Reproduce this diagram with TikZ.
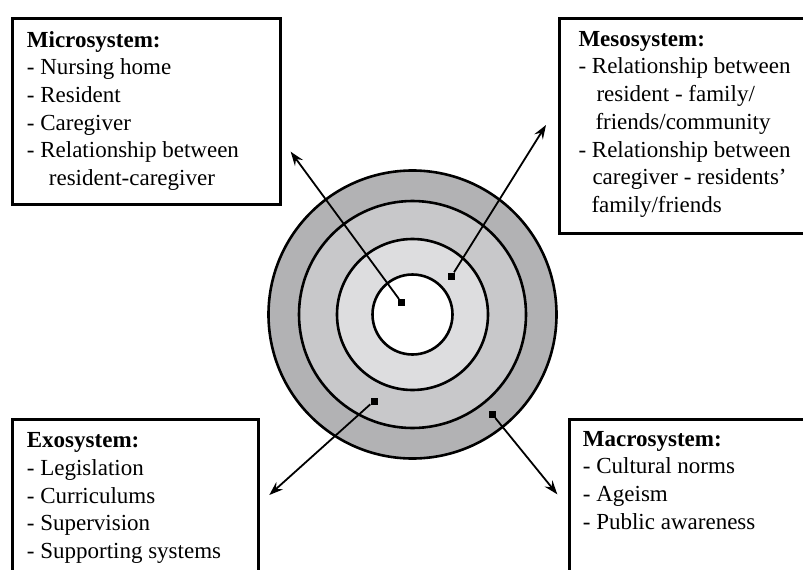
\documentclass[tikz,border=0pt]{standalone}
\usepackage{fontspec}
\setmainfont{Liberation Serif}
\usetikzlibrary{arrows.meta}
\definecolor{ringa}{RGB}{178,178,180}
\definecolor{ringb}{RGB}{200,200,202}
\definecolor{ringc}{RGB}{221,221,223}

\tikzset{
sysbox/.style={draw, line width=3pt, anchor=north west, inner sep=0pt},
systext/.style={anchor=north west, align=left, inner sep=0pt, font=\fontsize{23}{27.7}\selectfont},
ring/.style={circle, draw, line width=2.6pt, inner sep=0pt},
endsq/.style={fill=black, minimum size=7pt, inner sep=0pt},
link/.style={line width=1.8pt, -{Stealth[length=14pt,width=10pt,inset=5pt]}}
}

\begin{document}
\begin{tikzpicture}[x=1pt,y=-1pt]
\useasboundingbox (0,0) rectangle (803,570);
\clip (0,0) rectangle (803,570);

\coordinate (c) at (412.5,314.5);

\foreach \i/\r/\col in {1/144/ringa,2/113.5/ringb,3/75.5/ringc,4/40/white}
{
\node[ring, fill=\col, minimum size=2*\r pt] (r\i) at (c) {};
}

% boxes
\node[sysbox, minimum width=268.3pt, minimum height=186.3pt] (micro) at (10.7,16.7) {};
\node[sysbox, minimum width=260pt, minimum height=215pt] (meso) at (558,17) {};
\node[sysbox, minimum width=246.3pt, minimum height=180pt] (exo) at (10.7,418) {};
\node[sysbox, minimum width=250pt, minimum height=180pt] (macro) at (568.3,418) {};

\node[systext] (microtxt) at (26.7,31) {\textbf{Microsystem:}\\
- Nursing home\\
- Resident\\
- Caregiver\\
- Relationship between\\
\hspace*{22pt}resident-caregiver};

\node[systext] (mesotxt) at (578.3,31) {\textbf{Mesosystem:}\\
- Relationship between\\
\hspace*{18pt}resident - family/\\
\hspace*{17pt}friends/community\\
- Relationship between\\
\hspace*{14pt}caregiver - residents’\\
\hspace*{13pt}family/friends};

\node[systext] (exotxt) at (26.7,432.4) {\textbf{Exosystem:}\\
- Legislation\\
- Curriculums\\
- Supervision\\
- Supporting systems};

\node[systext] (macrotxt) at (582.7,431) {\textbf{Macrosystem:}\\
- Cultural norms\\
- Ageism\\
- Public awareness};

% arrows
\coordinate (t1) at (290.7,151.7);
\coordinate (t2) at (546,125);
\coordinate (t3) at (269.3,495);
\coordinate (t4) at (557.3,494.3);

\node[endsq] (m1) at (401.7,302.7) {};
\node[endsq] (m2) at (451.7,276) {};
\node[endsq] (m3) at (374,401) {};
\node[endsq] (m4) at (492.3,414.3) {};

\draw[link] (m1) -- (t1);
\draw[link] (m2) -- (t2);
\draw[link] (m3) -- (t3);
\draw[link] (m4) -- (t4);
\end{tikzpicture}
\end{document}
